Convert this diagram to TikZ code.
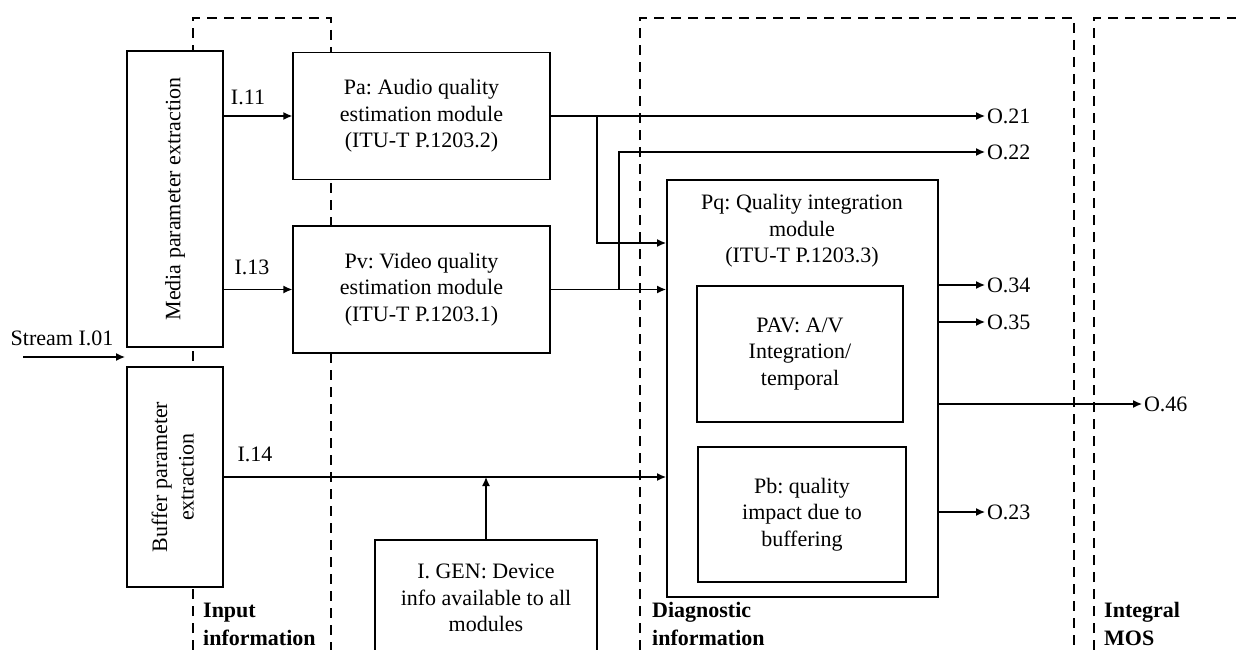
\documentclass[tikz,border=0pt]{standalone}
\usepackage{fontspec}
\setmainfont{Liberation Serif}
\usetikzlibrary{arrows.meta,positioning}
\frenchspacing

\begin{document}
\begin{tikzpicture}[
        x=1pt, y=-1pt,
        font=\fontsize{22}{26.5}\selectfont,
        box/.style={
            draw,
            fill=white,
            line width=1.3pt,
            align=center,
            inner sep=0pt
        },
        inner/.style={
            box,
            line width=1.9pt
        },
        region/.style={
            dash pattern=on 10pt off 7pt,
            line width=2.2pt
        },
        lbl/.style={inner sep=0pt},
        tag/.style={inner sep=2pt, outer sep=0pt, anchor=west},
        head/.style={
            font=\fontsize{22}{28}\selectfont\bfseries,
            align=left,
            anchor=west,
            inner sep=2pt
        },
        flow/.style={-{Latex[length=9pt,width=8pt]},line width=1.3pt}
    ]

        \path[use as bounding box, clip] (0,0) rectangle (1236,650);

        % Dashed regions, open at the bottom.
        \draw[region] (193,650) -- (193,18) -- (331,18) -- (331,650);
        \draw[region] (640,650) -- (640,18) -- (1074,18) -- (1074,650);
        \draw[region] (1094,650) -- (1094,18) -- (1240,18);

        \node[head] (inputlbl) at (201,624) {Input\\information};
        \node[head] (diaglbl) at (650,624) {Diagnostic\\information};
        \node[head] (moslbl) at (1102,624) {Integral\\MOS};

        \node[box, minimum width=96pt, minimum height=296pt]
            (media) at (175,199) {\rotatebox{90}{Media parameter extraction}};
        \node[box, minimum width=96pt, minimum height=220pt]
            (buffer) at (175,477)
            {\rotatebox{90}{\begin{tabular}{@{}c@{}}Buffer parameter\\extraction\end{tabular}}};

        \node[box, minimum width=257pt, minimum height=127pt]
            (pa) at (421.5,116) {Pa: Audio quality\\estimation module\\(ITU-T P.1203.2)};
        \node[box, minimum width=257pt, minimum height=127pt]
            (pv) at (421.5,289.5) {Pv: Video quality\\estimation module\\(ITU-T P.1203.1)};

        \node[inner, minimum width=271pt, minimum height=417pt]
            (pq) at (802.5,388.5) {};
        \node[lbl, align=center]
            (pqtitle) at (802,231) {Pq: Quality integration\\module\\(ITU-T P.1203.3)};
        \node[inner, minimum width=206pt, minimum height=136pt]
            (pav) at (800,354) {PAV: A/V\\Integration/\\temporal};
        \node[inner, minimum width=208pt, minimum height=135pt]
            (pb) at (802,514.5) {Pb: quality\\impact due to\\buffering};

        \node[box, minimum width=222pt, minimum height=116pt]
            (igen) at (486,598) {I. GEN: Device\\info available to all\\modules};

        \node[lbl] (stream) at (62,338) {Stream I.01};
        \node[lbl] (i11) at (248,97) {I.11};
        \node[lbl] (i13) at (252,267) {I.13};
        \node[lbl] (i14) at (255,454) {I.14};

        \node[tag] (o21) at (985,116) {O.21};
        \node[tag] (o22) at (985,152) {O.22};
        \node[tag] (o34) at (985,285) {O.34};
        \node[tag] (o35) at (985,322) {O.35};
        \node[tag] (o46) at (1142,404) {O.46};
        \node[tag] (o23) at (985,512) {O.23};

        \coordinate (streamin) at (23,357);
        \coordinate (streamend) at (125,357);
        \coordinate (splitA) at (597,116);
        \coordinate (splitV) at (619,289.5);

        \draw[flow] (streamin) -- (streamend);
        \draw[flow] (media.east |- pa) -- (pa.west);
        \draw[flow] (media.east |- pv) -- (pv.west);
        \draw[flow] (buffer.east) -- (buffer.east -| pq.west);
        \draw[flow] (igen.north) -- (igen.north |- buffer.east);

        \draw[flow] (pa.east) -- (o21.west);
        \draw[flow] (splitA) |- (pq.west |- 0,243);
        \draw[flow] (pv.east) -- (pv.east -| pq.west);
        \draw[flow] (splitV) |- (o22.west);

        \draw[flow] (pq.east |- o34) -- (o34.west);
        \draw[flow] (pq.east |- o35) -- (o35.west);
        \draw[flow] (pq.east |- o46) -- (o46.west);
        \draw[flow] (pq.east |- o23) -- (o23.west);

    \end{tikzpicture}
\end{document}
